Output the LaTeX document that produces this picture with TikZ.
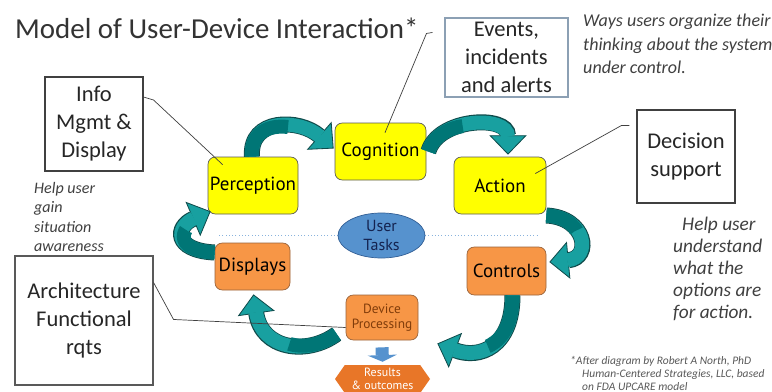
\documentclass[tikz,border=0pt]{standalone}
\usepackage{fontspec}
\setmainfont{Carlito}
\newfontfamily\stagefont{PT Sans}
\usetikzlibrary{arrows.meta, shapes.geometric, shapes.symbols, calc}
\definecolor{stageyellow}{RGB}{255,255,0}
\definecolor{stageorange}{RGB}{247,150,70}
\definecolor{resultorange}{RGB}{232,118,40}
\definecolor{procbrown}{RGB}{128,60,10}
\definecolor{taskblue}{RGB}{86,146,206}
\definecolor{taskedge}{RGB}{50,95,150}
\definecolor{tasktext}{RGB}{20,35,80}
\definecolor{tealbody}{RGB}{24,160,160}
\definecolor{tealdark}{RGB}{0,118,118}
\definecolor{tealedge}{RGB}{15,75,75}
\definecolor{eventsedge}{RGB}{140,160,180}
\definecolor{notegray}{RGB}{64,64,64}

% curved ribbon arrow: dark rim, teal body, darker twist at the start
\newcommand{\swirl}[2][1.4cm]{%
  \draw[line width=0.48cm, tealedge, -{Triangle[length=0.58cm, width=1.12cm, fill=tealbody, line width=0.7pt]}] #2;
  \draw[line width=0.42cm, tealbody, shorten >=0.54cm] #2;
  \draw[line width=0.42cm, tealdark, dash pattern=on #1 off 50cm] #2;}

\begin{document}
\begin{tikzpicture}[x=0.03cm, y=-0.03cm,
    stage/.style 2 args={rounded corners=0.22cm, draw=black!65, line width=0.6pt, minimum width=#1*0.03cm, minimum height=#2*0.03cm, inner sep=0pt, align=center, font=\stagefont\fontsize{16.2}{19}\selectfont},
    note/.style 2 args={draw=black!75, line width=0.9pt, minimum width=#1*0.03cm, minimum height=#2*0.03cm, inner sep=0pt, align=center, text=black!85, font=\fontsize{19.2}{23.9}\selectfont},
    remark/.style={anchor=north west, inner sep=0pt, align=left, text=notegray, font=\itshape},
    callout/.style={draw=black!75, line width=0.6pt},
    taskline/.style={draw=taskblue!70, line width=0.8pt, dotted}
  ]
  \fill[white] (0,0) rectangle (772,392);
  \useasboundingbox (0,0) rectangle (772,392);

  \node[anchor=base west, inner sep=0pt, text=black!80, font=\fontsize{24.7}{30}\selectfont] (title) at (15,38) {Model of User-Device Interaction*};

  % the cycle
  \node[stage={90}{57}, fill=stageyellow] (perc) at (253,185.5) {Perception};
  \node[stage={91}{57}, fill=stageyellow] (cog) at (380.5,151.5) {Cognition};
  \node[stage={92}{57}, fill=stageyellow] (act) at (500,185.5) {Action};
  \node[stage={75}{47}, fill=stageorange, draw=procbrown!80] (disp) at (252.5,266.5) {Displays};
  \node[stage={79}{48}, fill=stageorange, draw=procbrown!80] (ctrl) at (506.5,271) {Controls};
  \node[stage={72}{45}, fill=stageorange, draw=procbrown!80, text=procbrown, font=\stagefont\fontsize{11.4}{12.8}\selectfont] (proc) at (382,317.5) {Device\\Processing};

  \draw[taskline] (381.5,235.5) ++(-43.5,0) -- ++(-120,0);
  \draw[taskline] (381.5,235.5) ++(43.5,0) -- ++(113,0);
  \node[ellipse, draw=taskedge, fill=taskblue, line width=0.6pt, minimum width=87*0.03cm, minimum height=45*0.03cm, inner sep=0pt, align=center, text=tasktext, font=\stagefont\fontsize{13.7}{16.2}\selectfont] (tasks) at (381.5,235.5) {User\\Tasks};

  \node[signal, signal to=west and east, signal pointer angle=110, fill=resultorange, minimum width=95*0.03cm, minimum height=28*0.03cm, inner sep=0pt, align=center, text=white, font=\stagefont\fontsize{10.2}{11.2}\selectfont] (res) at (382.5,379) {Results\\\& outcomes};
  \draw[line width=0.39cm, taskblue, -{Triangle[length=0.2cm, width=0.87cm]}] ($(proc.south)+(0,7)$) -- ($(res.north)+(0,-3)$);

  \swirl[1.65cm]{($(perc.north)+(-1,0)$) .. controls +(-3,-39) and +(-34,-30) .. ($(cog.west)+(-1,-3)$)}
  \swirl[1.35cm]{($(cog.east)+(2,0)$) .. controls +(10,-34) and +(0,-40) .. ($(act.north)+(8,-2)$)}
  \swirl[1.05cm]{($(act.east)+(0,30)$) .. controls +(40,2) and +(43,-4) .. ($(ctrl.east)+(3,-9)$)}
  \swirl[1.8cm]{($(ctrl.south)+(6,0)$) .. controls +(0,52) and +(42,16) .. ($(proc.east)+(19,26)$)}
  \swirl[1.5cm]{($(proc.west)+(-9,16.5)$) .. controls +(-30,22) and +(8,55) .. ($(disp.south)+(1,4)$)}
  \swirl[1.35cm]{($(disp.west)+(0,-14)$) .. controls +(-42,-2) and +(-35,15) .. ($(perc.south west)+(3,-3)$)}

  % boxes with their callouts
  \node[note={98}{94}] (info) at (94,124) {Info\\Mgmt \&\\Display};
  \node[note={123}{79}, draw=eventsedge] (events) at (506.5,57.5) {Events,\\incidents\\and alerts};
  \node[note={98}{93}] (dec) at (686,156.5) {Decision\\support};
  \node[note={138}{129}, draw=black!65] (arch) at (84,320.5) {Architecture\\Functional\\rqts};

  \draw[callout] ($(info.east)+(0,-27)$) -- ++(10,3) -- ($(perc.north west)+(15,8)$);
  \draw[callout] ($(events.north west)+(-12,15)$) -- ++(-6,1) -- ($(cog.north)+(4.5,10)$);
  \draw[callout] ($(dec.north west)+(-7,16)$) -- ++(-8,0) -- ($(act.east)+(-11,-12)$);
  \draw[callout] ($(arch.north east)+(0,27)$) -- ++(20,37) -- ($(proc.west)+(0,10)$);

  % side notes
  \node[remark, font=\itshape\fontsize{15.4}{20}\selectfont] (ways) at (583,14) {Ways users organize their\\thinking about the system\\under control.};
  \node[remark, font=\itshape\fontsize{13.7}{16.5}\selectfont] (gain) at (34,182) {Help user\\gain\\situation\\awareness};
  \node[remark, font=\itshape\fontsize{16.5}{18.8}\selectfont] (options) at (673,217) {\hspace*{0.27cm}Help user\\understand\\what the\\options are\\for action.};
  \node[remark, font=\itshape\fontsize{9.8}{11.1}\selectfont, text=black!65] (credit) at (570,356) {*After diagram by Robert A North, PhD\\\hspace*{0.36cm}Human-Centered Strategies, LLC, based\\\hspace*{0.36cm}on FDA UPCARE model};
\end{tikzpicture}
\end{document}
